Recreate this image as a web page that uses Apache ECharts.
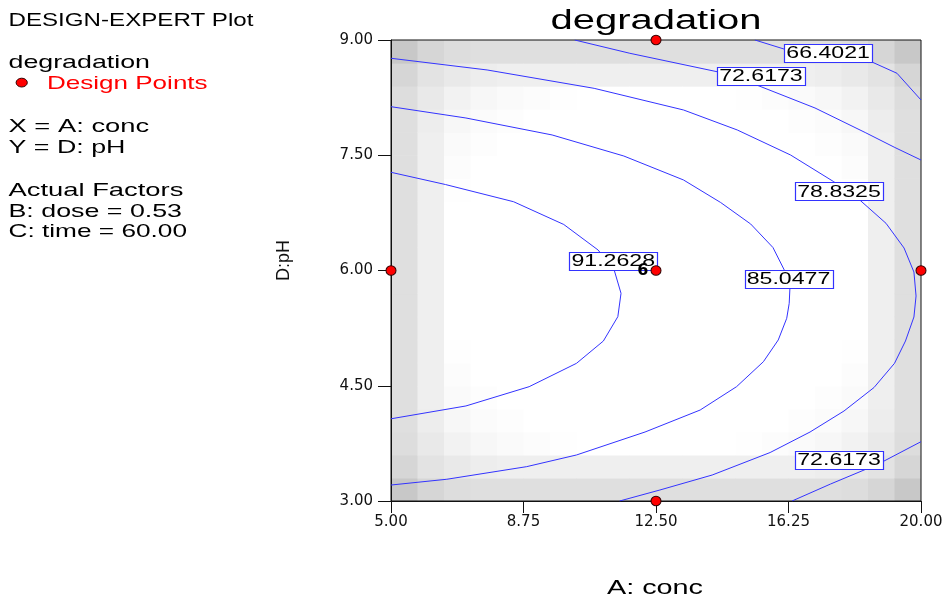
<!DOCTYPE html>
<html>
<head>
<meta charset="utf-8">
<title>degradation</title>
<script src="https://cdn.jsdelivr.net/npm/echarts@6/dist/echarts.min.js"></script>
<style>
  html, body { margin: 0; padding: 0; background: #ffffff; }
  #chart { width: 946px; height: 598px; }
</style>
</head>
<body>
<div id="chart"></div>
<script>
// ---- data ---------------------------------------------------------------
const concRange = [5, 20];
const phRange = [3, 9];
const concTicks = [5, 8.75, 12.5, 16.25, 20];
const phTicks = [3, 4.5, 6, 7.5, 9];

// response value of each contour line
const contourLevels = [66.4021, 72.6173, 78.8325, 85.0477, 91.2628];

// contour paths as [conc, pH]
const contour66 = [[15.30, 9.00], [16.12, 8.883], [18.61, 8.714], [19.32, 8.567], [20.00, 8.219]];
const contour72Top = [[10.20, 9.00], [11.76, 8.827], [14.23, 8.587], [15.35, 8.414], [17.00, 8.115],
  [18.42, 7.796], [19.26, 7.601], [20.00, 7.438]];
const contour72Bottom = [[16.35, 3.00], [17.44, 3.221], [18.46, 3.417], [18.92, 3.512], [20.00, 3.772]];
const contour78 = [[5.00, 8.762], [7.72, 8.610], [10.75, 8.371], [13.28, 8.089], [14.80, 7.829],
  [16.31, 7.503], [17.53, 7.156], [18.29, 6.908], [19.01, 6.614], [19.52, 6.293], [19.80, 5.980],
  [19.86, 5.668], [19.80, 5.395], [19.56, 5.082], [19.25, 4.792], [18.67, 4.477], [17.82, 4.171],
  [16.86, 3.898], [15.73, 3.631], [14.09, 3.338], [12.61, 3.143], [11.47, 3.00]];
const contour85 = [[5.00, 8.132], [7.12, 7.985], [9.56, 7.764], [11.59, 7.490], [13.28, 7.178],
  [14.33, 6.885], [15.18, 6.605], [15.81, 6.299], [16.13, 6.007], [16.29, 5.768], [16.27, 5.573],
  [16.20, 5.378], [15.96, 5.096], [15.54, 4.813], [14.78, 4.488], [13.75, 4.184], [12.19, 3.898],
  [10.25, 3.599], [8.84, 3.447], [6.58, 3.283], [5.00, 3.208]];
const contour91 = [[5.00, 7.278], [6.54, 7.119], [8.47, 6.895], [9.89, 6.599], [10.86, 6.267],
  [11.31, 6.016], [11.51, 5.703], [11.42, 5.399], [11.01, 5.082], [10.25, 4.792], [8.91, 4.488],
  [7.12, 4.237], [5.00, 4.070]];

// contour label anchors
const labelConc = [17.37, 15.47, 17.68, 16.25, 11.29, 17.68];
const labelPH = [8.83, 8.53, 7.03, 5.89, 6.13, 3.53];
const labelLevel = [0, 1, 2, 3, 4, 1];

// design points and their replicate counts
const designConc = [5, 20, 12.5, 12.5, 12.5];
const designPH = [6, 6, 9, 3, 6];
const replicates = [1, 1, 1, 1, 6];

// grey depth (255 - grey level) of the shading cells in one corner quadrant,
// row = cells from the top/bottom border, column = cells from the left/right border
const shadeQuadrant = [
  [55, 41, 34, 32, 32, 32, 32, 32, 32, 32],
  [41, 28, 22, 18, 16, 16, 16, 16, 16, 16],
  [34, 22, 13, 8, 5, 3, 1, 0, 0, 0],
  [32, 18, 8, 4, 2, 0, 0, 0, 0, 0],
  [32, 16, 5, 2, 0, 0, 0, 0, 0, 0],
  [32, 16, 3, 0, 0, 0, 0, 0, 0, 0],
  [32, 16, 1, 0, 0, 0, 0, 0, 0, 0],
  [32, 16, 0, 0, 0, 0, 0, 0, 0, 0],
  [32, 16, 0, 0, 0, 0, 0, 0, 0, 0],
  [32, 16, 0, 0, 0, 0, 0, 0, 0, 0]
];
const shadeCols = 20;
const shadeRows = 20;

// ---- derived tables -----------------------------------------------------
const contourPaths = [
  { level: 0, path: contour66 },
  { level: 1, path: contour72Top },
  { level: 1, path: contour72Bottom },
  { level: 2, path: contour78 },
  { level: 3, path: contour85 },
  { level: 4, path: contour91 }
];

const cellW = (concRange[1] - concRange[0]) / shadeCols;
const cellH = (phRange[1] - phRange[0]) / shadeRows;
const shadeCells = [];
for (let i = 0; i < shadeCols; i++) {
  for (let j = 0; j < shadeRows; j++) {
    const ci = Math.min(i, shadeCols - 1 - i);
    const rj = Math.min(j, shadeRows - 1 - j);
    const g = 255 - shadeQuadrant[rj][ci];
    shadeCells.push([
      concRange[0] + i * cellW, phRange[0] + j * cellH,
      concRange[0] + (i + 1) * cellW, phRange[0] + (j + 1) * cellH, g
    ]);
  }
}

const labelData = labelConc.map((c, k) => [c, labelPH[k], labelLevel[k]]);

const BLUE = '#3333ff';
const SANS = '"Liberation Sans", Arial, sans-serif';

const designData = designConc.map((c, k) => {
  const item = { value: [c, designPH[k]] };
  if (replicates[k] > 1) {
    item.label = {
      show: true, position: 'left', distance: 2, formatter: String(replicates[k]),
      fontFamily: 'DejaVu Sans', fontWeight: 'bold', fontSize: 16, color: '#000'
    };
  }
  return item;
});

// ---- side panel and titles ---------------------------------------------
function txt(text, x, y, size, sx, color, align) {
  return {
    type: 'text', x: x, y: y, scaleX: sx, z: 10, silent: true,
    style: {
      text: text, font: size + 'px ' + SANS, fill: color,
      align: align, textAlign: align, verticalAlign: 'middle', textVerticalAlign: 'middle'
    }
  };
}

const graphics = [
  txt('DESIGN-EXPERT Plot', 8.5, 20.5, 19, 1.27, '#000', 'left'),
  txt('degradation', 8.5, 63.2, 19, 1.41, '#000', 'left'),
  txt('Design Points', 47, 83.9, 19, 1.37, '#ff0000', 'left'),
  txt('X = A: conc', 8.5, 127.2, 19, 1.44, '#000', 'left'),
  txt('Y = D: pH', 8.5, 147.5, 19, 1.41, '#000', 'left'),
  txt('Actual Factors', 8.5, 190.5, 19, 1.44, '#000', 'left'),
  txt('B: dose = 0.53', 8.5, 212.2, 19, 1.41, '#000', 'left'),
  txt('C: time = 60.00', 8.5, 232.2, 19, 1.38, '#000', 'left'),
  txt('degradation', 656, 22, 27, 1.48, '#000', 'center'),
  txt('A: conc', 655, 588, 20, 1.44, '#000', 'center'),
  {
    type: 'ellipse', z: 10, silent: true,
    shape: { cx: 21.7, cy: 82.6, rx: 5.6, ry: 4.4 },
    style: { fill: '#ff0000', stroke: '#300000', lineWidth: 1 }
  }
];

// ---- chart --------------------------------------------------------------
const chart = echarts.init(document.getElementById('chart'));

const series = [
  {
    type: 'custom', name: 'shade', z: 1, silent: true, clip: true,
    encode: { x: [0, 2], y: [1, 3] },
    data: shadeCells,
    renderItem: function (params, api) {
      const a = api.coord([api.value(0), api.value(3)]);
      const b = api.coord([api.value(2), api.value(1)]);
      const g = api.value(4);
      return {
        type: 'rect',
        shape: { x: a[0], y: a[1], width: b[0] - a[0] + 0.6, height: b[1] - a[1] + 0.6 },
        style: { fill: 'rgb(' + g + ',' + g + ',' + g + ')', stroke: null }
      };
    }
  }
];

contourPaths.forEach(function (cp) {
  series.push({
    type: 'line', name: contourLevels[cp.level].toFixed(4), z: 4,
    data: cp.path, showSymbol: false, symbol: 'none', smooth: false,
    lineStyle: { color: BLUE, width: 1 }, silent: true
  });
});

series.push({
  type: 'custom', name: 'contour labels', z: 5, silent: true,
  encode: { x: 0, y: 1 },
  data: labelData,
  renderItem: function (params, api) {
    const p = api.coord([api.value(0), api.value(1)]);
    const text = contourLevels[api.value(2)].toFixed(4);
    return {
      type: 'group',
      children: [
        {
          type: 'rect', z2: 1,
          shape: { x: Math.round(p[0] - 44) + 0.5, y: Math.round(p[1] - 9) + 0.5, width: 88, height: 18 },
          style: { fill: '#ffffff', stroke: BLUE, lineWidth: 1.2 }
        },
        {
          type: 'text', z2: 2, x: p[0], y: p[1] + 0.5, scaleX: 1.36,
          style: {
            text: text, font: '17px ' + SANS, fill: '#000',
            align: 'center', textAlign: 'center', verticalAlign: 'middle', textVerticalAlign: 'middle'
          }
        }
      ]
    };
  }
});

series.push({
  type: 'scatter', name: 'Design Points', z: 6, clip: false, silent: true,
  symbol: 'circle', symbolSize: [10, 9.5],
  itemStyle: { color: '#ff0000', borderColor: '#300000', borderWidth: 1, opacity: 1 },
  data: designData
});

chart.setOption({
  animation: false,
  backgroundColor: '#ffffff',
  graphic: graphics,
  grid: {
    left: 391, top: 40, width: 530, height: 461,
    show: true, borderColor: '#111', borderWidth: 1, backgroundColor: 'transparent', z: 3
  },
  xAxis: {
    type: 'value', min: concRange[0], max: concRange[1], z: 3,
    axisLine: { show: true, lineStyle: { color: '#111', width: 1 } },
    axisTick: { show: true, length: 12, customValues: concTicks, lineStyle: { color: '#111' } },
    axisLabel: {
      customValues: concTicks, margin: 14,
      formatter: function (v) { return v.toFixed(2); },
      fontFamily: 'DejaVu Sans', fontSize: 15, color: '#111'
    },
    splitLine: { show: false }
  },
  yAxis: {
    type: 'value', min: phRange[0], max: phRange[1], z: 3,
    name: 'D:pH', nameLocation: 'middle', nameRotate: 90, nameGap: 98,
    nameTextStyle: { fontFamily: 'Liberation Sans', fontSize: 18, color: '#111', padding: [0, 0, 0, 20] },
    axisLine: { show: true, lineStyle: { color: '#111', width: 1 } },
    axisTick: { show: true, length: 13, customValues: phTicks, lineStyle: { color: '#111' } },
    axisLabel: {
      customValues: phTicks, margin: 18,
      formatter: function (v) { return v.toFixed(2); },
      fontFamily: 'DejaVu Sans', fontSize: 15, color: '#111'
    },
    splitLine: { show: false }
  },
  series: series
});
</script>
</body>
</html>
